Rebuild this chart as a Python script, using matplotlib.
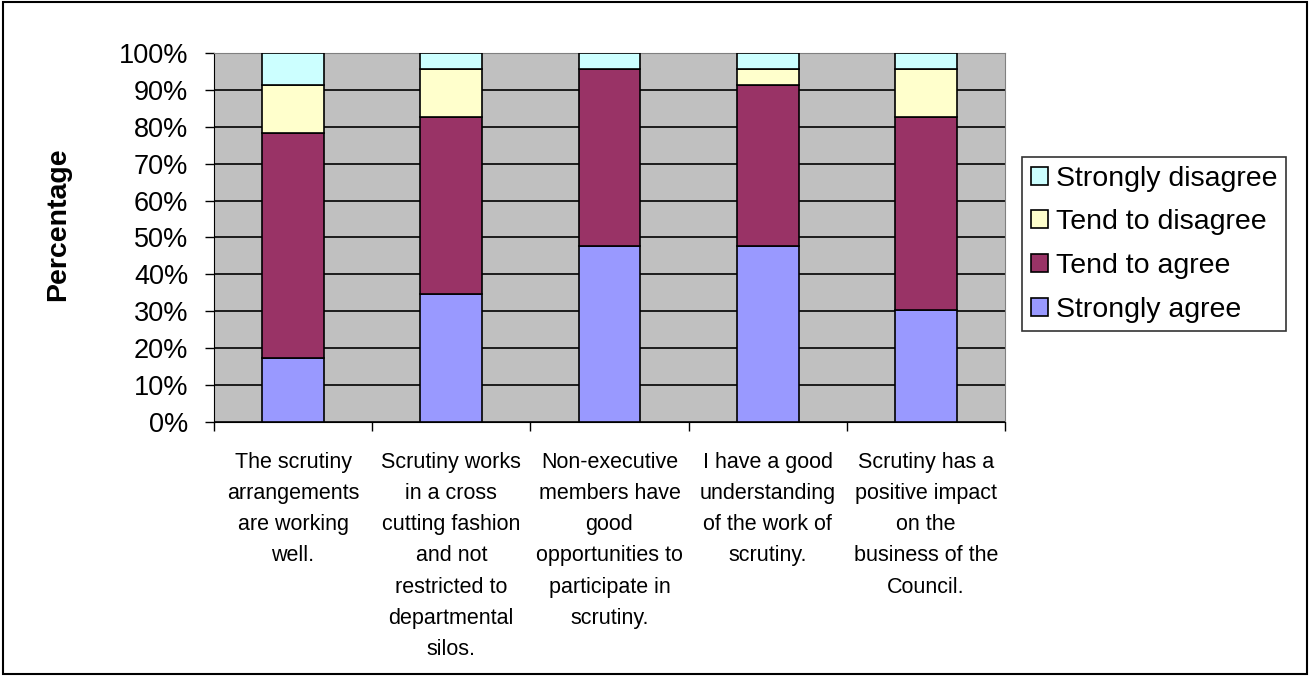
import numpy as np
import matplotlib.pyplot as plt
from matplotlib.patches import Rectangle

plt.rcParams['font.family'] = ['Liberation Sans', 'DejaVu Sans']

# survey statements and response shares (%)
categories = ['The scrutiny\narrangements\nare working\nwell.',
              'Scrutiny works\nin a cross\ncutting fashion\nand not\nrestricted to\ndepartmental\nsilos.',
              'Non-executive\nmembers have\ngood\nopportunities to\nparticipate in\nscrutiny.',
              'I have a good\nunderstanding\nof the work of\nscrutiny.',
              'Scrutiny has a\npositive impact\non the\nbusiness of the\nCouncil.']
strongly_agree = [17.4, 34.8, 47.8, 47.8, 30.4]
tend_agree = [60.9, 47.8, 47.8, 43.5, 52.2]
tend_disagree = [13.0, 13.0, 0.0, 4.3, 13.0]
strongly_disagree = [8.7, 4.3, 4.3, 4.3, 4.3]

series = [('Strongly agree', strongly_agree, '#9999FF'),
          ('Tend to agree', tend_agree, '#993366'),
          ('Tend to disagree', tend_disagree, '#FFFFCC'),
          ('Strongly disagree', strongly_disagree, '#CCFFFF')]

fig = plt.figure(figsize=(13.11, 6.77), dpi=100)
ax = fig.add_axes([0.1632, 0.3767, 0.6034, 0.545])
ax.set_facecolor('#C0C0C0')

x = np.arange(len(categories))
bottom = np.zeros(len(categories))
handles = []
for name, vals, col in series:
    b = ax.bar(x, vals, 0.39, bottom=bottom, color=col, edgecolor='black',
               linewidth=1.2, label=name, zorder=3)
    handles.append(b)
    bottom += np.array(vals)

ax.set_xlim(-0.5, len(categories) - 0.5)
ax.set_ylim(0, 100)
ax.set_yticks(np.arange(0, 101, 10))
ax.set_yticklabels([f'{v}%' for v in range(0, 101, 10)], fontsize=19.5)
ax.yaxis.grid(True, color='black', linewidth=1.2, zorder=1)
ax.tick_params(axis='y', length=6.5, width=1, pad=12)

# ticks between categories, labels under each bar
ax.set_xticks(np.arange(-0.5, len(categories), 1.0))
ax.set_xticklabels([])
ax.tick_params(axis='x', length=6.5, width=1)
for i, lab in enumerate(categories):
    ax.text(i, -8.2, lab, ha='center', va='top', fontsize=15.5, linespacing=1.63,
            transform=ax.transData)

for s in ['top', 'right']:
    ax.spines[s].set_color('#808080')
ax.spines['left'].set_color('black')
ax.spines['bottom'].set_color('black')

ax.set_ylabel('Percentage', fontsize=20.5, fontweight='bold')
ax.yaxis.set_label_coords(-0.18, 0.537)

leg = ax.legend(handles[::-1], [s[0] for s in series][::-1], loc='center left',
                bbox_to_anchor=(1.0215, 0.482), fontsize=20.5, frameon=True,
                fancybox=False, edgecolor='black', handlelength=0.6,
                handleheight=0.6, handletextpad=0.3, labelspacing=0.62,
                borderpad=0.3, borderaxespad=0)
leg.get_frame().set_linewidth(1.2)

fig.patches.append(Rectangle((0.002, 0.005), 0.995, 0.992, transform=fig.transFigure,
                             fill=False, edgecolor='black', linewidth=1.5))

fig.savefig('out.png', dpi=100)
